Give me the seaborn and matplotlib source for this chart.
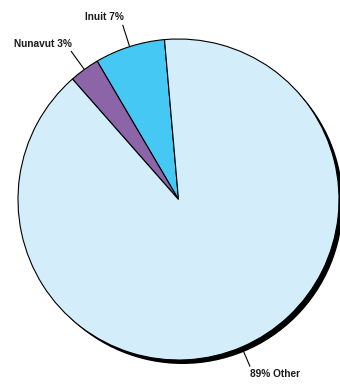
import numpy as np
import matplotlib
matplotlib.use("Agg")
import matplotlib.pyplot as plt
from matplotlib.patches import Circle
from matplotlib import font_manager
import seaborn as sns

# Population share
labels = ["Inuit", "Nunavut", "Other"]
shares = [7, 3, 89]
colors = ["#45C8F3", "#8C65A9", "#D3EEFA"]
label_texts = ["Inuit 7%", "Nunavut 3%", "89% Other"]

sns.set_theme(style="white")
installed = {f.name for f in font_manager.fontManager.ttflist}
family = "Liberation Sans Narrow" if "Liberation Sans Narrow" in installed else "Liberation Sans"
label_size = 8.5 if family == "Liberation Sans Narrow" else 7.3
plt.rcParams["font.family"] = [family, "DejaVu Sans"]

W, H = 340, 384
fig = plt.figure(figsize=(W / 100, H / 100), dpi=100)
ax = fig.add_axes([0, 0, 1, 1])

cx, cy, r = 178.5, H - 199.5, 160.5

# drop shadow behind the pie
ax.add_patch(Circle((cx + 4, cy - 4), r, facecolor="black", edgecolor="none", zorder=0))

wedges, _ = ax.pie(
    shares,
    colors=colors,
    startangle=95,
    counterclock=True,
    center=(cx, cy),
    radius=r,
    wedgeprops=dict(edgecolor="black", linewidth=0.8),
)
for w in wedges:
    w.set_zorder(1)

# leader lines and labels
layout = {
    "Inuit": dict(ha="right", va="bottom", r0=1.0, r1=1.14, dx=1, dy=3),
    "Nunavut": dict(ha="right", va="bottom", r0=1.0, r1=1.14, dx=1, dy=2),
    "Other": dict(ha="left", va="top", r0=1.03, r1=1.13, dx=0, dy=-3),
}
for w, lab, txt in zip(wedges, labels, label_texts):
    mid = np.deg2rad((w.theta1 + w.theta2) / 2)
    opt = layout[lab]
    x0, y0 = cx + opt["r0"] * r * np.cos(mid), cy + opt["r0"] * r * np.sin(mid)
    x1, y1 = cx + opt["r1"] * r * np.cos(mid), cy + opt["r1"] * r * np.sin(mid)
    ax.plot([x0, x1], [y0, y1], color="black", lw=0.8, zorder=2)
    ax.text(x1 + opt["dx"], y1 + opt["dy"], txt, ha=opt["ha"], va=opt["va"],
            fontsize=label_size, fontweight="bold", color="#1a1a1a", zorder=3)

ax.set_xlim(0, W)
ax.set_ylim(0, H)
ax.set_aspect("auto")
ax.axis("off")

fig.savefig("out.png", dpi=100)
